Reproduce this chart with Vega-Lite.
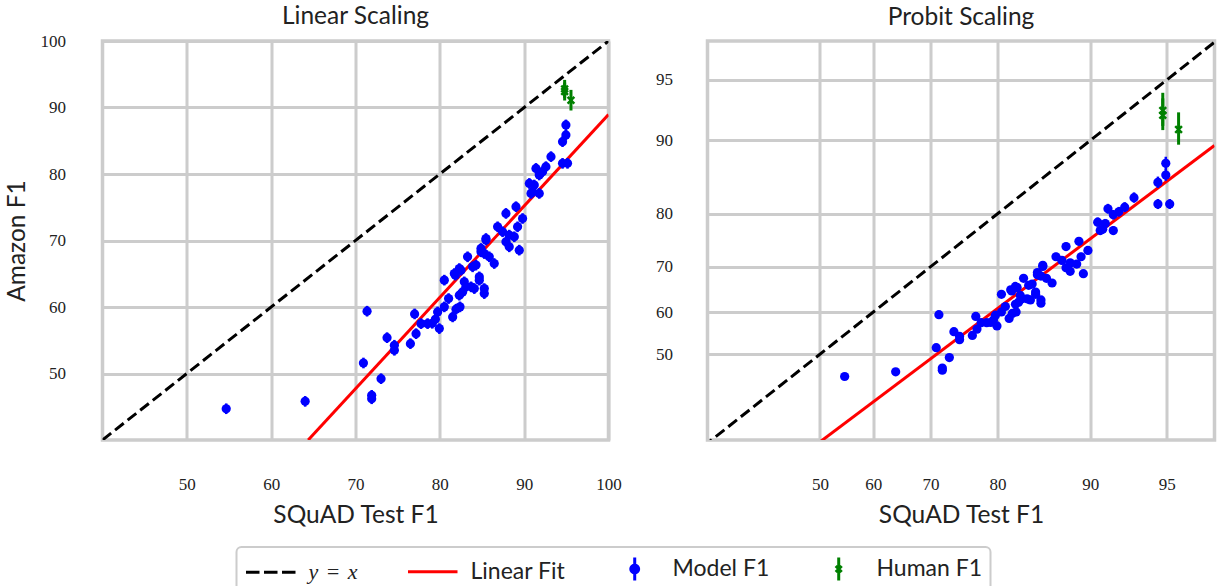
{
  "$schema": "https://vega.github.io/schema/vega-lite/v6.json",
  "background": "white",
  "padding": {"left": 1.5, "top": 1, "right": 5, "bottom": 0},
  "config": {
    "view": {"stroke": "#cccccc", "strokeWidth": 3.5},
    "font": "Lato",
    "axis": {"domain": false, "ticks": false, "tickSize": 0, "grid": true, "gridColor": "#cccccc", "gridWidth": 3, "gridOpacity": 1,
      "labelFont": "Liberation Serif", "labelFontSize": 17, "labelColor": "#222222", "labelFlush": false, "labelOverlap": false,
      "titleFont": "Lato", "titleFontSize": 24.5, "titleFontWeight": "normal", "titleColor": "#222222"},
    "title": {"font": "Lato", "fontSize": 24.5, "fontWeight": "normal", "color": "#222222"}
  },
  "datasets": {
    "model": [
      {"x": 54.67, "y": 44.70, "e": 0.8}, {"x": 64.03, "y": 45.81, "e": 0.8}, {"x": 71.37, "y": 59.37, "e": 0.8},
      {"x": 70.94, "y": 51.58, "e": 0.8}, {"x": 71.92, "y": 46.72, "e": 0.8}, {"x": 71.92, "y": 46.20, "e": 0.8},
      {"x": 73.03, "y": 49.22, "e": 0.8}, {"x": 73.74, "y": 55.39, "e": 0.8}, {"x": 74.61, "y": 54.25, "e": 0.8},
      {"x": 74.61, "y": 53.49, "e": 0.8}, {"x": 76.51, "y": 54.49, "e": 0.8}, {"x": 77.18, "y": 55.99, "e": 0.8},
      {"x": 77.01, "y": 58.96, "e": 0.8}, {"x": 77.77, "y": 57.50, "e": 0.8}, {"x": 78.55, "y": 57.50, "e": 0.8},
      {"x": 79.47, "y": 58.16, "e": 0.8}, {"x": 79.94, "y": 56.75, "e": 0.8}, {"x": 79.74, "y": 59.26, "e": 0.8},
      {"x": 80.53, "y": 60.02, "e": 0.8}, {"x": 81.04, "y": 61.27, "e": 0.8}, {"x": 81.52, "y": 58.51, "e": 0.8},
      {"x": 81.92, "y": 59.67, "e": 0.8}, {"x": 82.39, "y": 60.02, "e": 0.8}, {"x": 80.53, "y": 64.04, "e": 0.8},
      {"x": 81.84, "y": 64.79, "e": 0.8}, {"x": 82.51, "y": 65.54, "e": 0.8}, {"x": 82.90, "y": 63.78, "e": 0.8},
      {"x": 82.70, "y": 62.27, "e": 0.8}, {"x": 83.29, "y": 67.55, "e": 0.8}, {"x": 83.89, "y": 66.04, "e": 0.8},
      {"x": 84.09, "y": 62.77, "e": 0.8}, {"x": 84.68, "y": 64.04, "e": 0.8}, {"x": 85.27, "y": 62.77, "e": 0.8},
      {"x": 84.88, "y": 68.30, "e": 0.8}, {"x": 85.47, "y": 70.06, "e": 0.8}, {"x": 93.18, "y": 82.61, "e": 0.8},
      {"x": 92.58, "y": 81.10, "e": 0.8}, {"x": 91.40, "y": 80.84, "e": 0.8}, {"x": 91.79, "y": 79.85, "e": 0.8},
      {"x": 90.61, "y": 78.58, "e": 0.8}, {"x": 91.20, "y": 78.34, "e": 0.8}, {"x": 91.79, "y": 77.08, "e": 0.8},
      {"x": 91.00, "y": 77.33, "e": 0.8}, {"x": 89.03, "y": 75.08, "e": 0.8}, {"x": 87.84, "y": 74.07, "e": 0.8},
      {"x": 89.81, "y": 73.31, "e": 0.8}, {"x": 89.22, "y": 72.06, "e": 0.8}, {"x": 86.85, "y": 72.06, "e": 0.8},
      {"x": 87.44, "y": 71.31, "e": 0.8}, {"x": 88.23, "y": 70.81, "e": 0.8}, {"x": 88.83, "y": 70.56, "e": 0.8},
      {"x": 87.84, "y": 69.80, "e": 0.8}, {"x": 88.23, "y": 69.05, "e": 0.8}, {"x": 89.42, "y": 68.55, "e": 0.8},
      {"x": 85.47, "y": 70.30, "e": 0.8}, {"x": 84.88, "y": 68.80, "e": 0.8}, {"x": 85.27, "y": 68.04, "e": 0.8},
      {"x": 85.86, "y": 67.55, "e": 0.8}, {"x": 86.45, "y": 66.54, "e": 0.8}, {"x": 84.29, "y": 66.30, "e": 0.8},
      {"x": 82.31, "y": 65.78, "e": 0.8}, {"x": 84.68, "y": 64.53, "e": 0.8}, {"x": 81.72, "y": 65.03, "e": 0.8},
      {"x": 94.95, "y": 87.38, "e": 0.8}, {"x": 94.95, "y": 85.87, "e": 0.8}, {"x": 94.55, "y": 84.86, "e": 0.8},
      {"x": 94.55, "y": 81.60, "e": 0.8}, {"x": 95.14, "y": 81.60, "e": 0.8}, {"x": 92.18, "y": 80.35, "e": 0.8},
      {"x": 90.81, "y": 77.08, "e": 0.8}, {"x": 79.10, "y": 57.55, "e": 0.8}, {"x": 83.10, "y": 63.03, "e": 0.8},
      {"x": 83.70, "y": 63.03, "e": 0.8}, {"x": 82.31, "y": 61.78, "e": 0.8}, {"x": 85.27, "y": 62.02, "e": 0.8}
    ],
    "human": [
      {"x": 94.8, "y": 92.8, "e": 1.35},
      {"x": 94.8, "y": 92.4, "e": 1.35},
      {"x": 95.55, "y": 91.1, "e": 1.55}
    ],
    "diag_lin": [{"x": 40, "y": 40}, {"x": 100, "y": 100}],
    "fit_lin": [{"x": 64.39, "y": 40}, {"x": 100, "y": 88.93}],
    "diag_prob": [{"x": 29, "y": 29}, {"x": 98, "y": 98}],
    "fit_prob": [{"x": 29.7, "y": 15.1}, {"x": 96.93, "y": 89.46}]
  },
  "bounds": "flush",
  "spacing": 99,
  "resolve": {"scale": {"color": "shared"}},
  "hconcat": [
    {
      "width": 506,
      "height": 399,
      "title": {"text": "Linear Scaling", "frame": "group", "offset": 3},
      "encoding": {
        "x": {"field": "x", "type": "quantitative", "title": "SQuAD Test F1",
          "scale": {"domain": [40, 100], "nice": false, "zero": false},
          "axis": {"values": [50, 60, 70, 80, 90, 100], "labelPadding": 36, "titlePadding": 11}},
        "y": {"field": "y", "type": "quantitative", "title": "Amazon F1",
          "scale": {"domain": [40, 100], "nice": false, "zero": false},
          "axis": {"values": [50, 60, 70, 80, 90, 100], "labelPadding": 37, "titlePadding": 11}}
      },
      "layer": [
        {"data": {"name": "diag_lin"}, "mark": {"type": "line", "color": "#000000", "strokeWidth": 3, "strokeDash": [11, 5], "clip": true}},
        {"data": {"name": "fit_lin"}, "mark": {"type": "line", "color": "#ff0000", "strokeWidth": 3, "clip": true}},
        {"data": {"name": "model"},
          "transform": [{"calculate": "datum.y - datum.e", "as": "lo"}, {"calculate": "datum.y + datum.e", "as": "hi"}],
          "mark": {"type": "rule", "color": "#0000ff", "strokeWidth": 2.5},
          "encoding": {"y": {"field": "lo", "type": "quantitative", "title": "Amazon F1"}, "y2": {"field": "hi"}}},
        {"data": {"name": "model"},
          "mark": {"type": "point", "filled": true, "opacity": 1, "size": 85},
          "encoding": {"color": {"datum": "Model F1", "type": "nominal",
            "scale": {"domain": ["y = x", "Linear Fit", "Model F1", "Human F1"], "range": ["#000000", "#ff0000", "#0000ff", "#008000"]},
            "legend": {
              "orient": "none", "legendX": 134, "legendY": 506, "direction": "horizontal", "columns": 4, "title": null,
              "padding": 8, "strokeColor": "#cccccc", "cornerRadius": 5, "columnPadding": 43, "labelOffset": 37,
              "labelFont": "Lato", "labelFontSize": 23, "labelColor": "#222222", "labelLimit": 300,
              "symbolSize": 576, "symbolStrokeWidth": 3, "symbolOpacity": 1,
              "labelExpr": "datum.value === 'y = x' ? 'y\u2004=\u2004x' : datum.label",
              "encode": {
                "legend": {"update": {"strokeWidth": {"value": 2}}},
                "symbols": {"update": {
                  "shape": {"signal": "datum.value === 'Model F1' ? 'M1.06,-0.96V0.96M1.39,0A0.33,0.33,0,1,1,0.73,0A0.33,0.33,0,1,1,1.39,0Z' : datum.value === 'Human F1' ? 'M1.06,-0.96V0.96M0.81,-0.25L1.31,0.25M0.81,0.25L1.31,-0.25' : datum.value === 'Linear Fit' ? 'M-1,0H3.125' : 'M-1,0H0.125M0.5,0H1.625M2,0H3.125'"},
                  "fill": {"scale": "color", "field": "value"},
                  "stroke": {"scale": "color", "field": "value"},
                  "opacity": {"value": 1}
                }},
                "labels": {"update": {
                  "font": {"signal": "datum.value === 'y = x' ? 'Liberation Serif' : 'Lato'"},
                  "fontSize": {"signal": "datum.value === 'y = x' ? 22 : 23"},
                  "fontStyle": {"signal": "datum.value === 'y = x' ? 'italic' : 'normal'"}
                }}
              }
            }}}},
        {"data": {"name": "human"},
          "transform": [{"calculate": "datum.y - datum.e", "as": "lo"}, {"calculate": "datum.y + datum.e", "as": "hi"}],
          "mark": {"type": "rule", "color": "#008000", "strokeWidth": 3},
          "encoding": {"y": {"field": "lo", "type": "quantitative", "title": "Amazon F1"}, "y2": {"field": "hi"}}},
        {"data": {"name": "human"},
          "mark": {"type": "point", "filled": false, "opacity": 1, "size": 45, "strokeWidth": 2.5, "shape": "M-1,-1L1,1M-1,1L1,-1"},
          "encoding": {"color": {"datum": "Human F1", "type": "nominal"}}}
      ]
    },
    {
      "width": 507,
      "height": 399,
      "title": {"text": "Probit Scaling", "frame": "group", "offset": 11},
      "encoding": {
        "x": {"field": "px", "type": "quantitative", "title": "SQuAD Test F1",
          "scale": {"domain": [-0.533, 1.871], "nice": false, "zero": false},
          "axis": {"values": [0, 0.253347, 0.524401, 0.841621, 1.281552, 1.644854], "labelExpr": "format(cumulativeNormal(datum.value) * 100, '.0f')", "labelPadding": 36, "titlePadding": 11}},
        "y": {"field": "py", "type": "quantitative", "title": null,
          "scale": {"domain": [-0.514, 1.878], "nice": false, "zero": false},
          "axis": {"values": [0, 0.253347, 0.524401, 0.841621, 1.281552, 1.644854], "labelExpr": "format(cumulativeNormal(datum.value) * 100, '.0f')", "labelPadding": 35}}
      },
      "layer": [
        {"data": {"name": "diag_prob"},
          "transform": [{"calculate": "quantileNormal(datum.x / 100)", "as": "px"}, {"calculate": "quantileNormal(datum.y / 100)", "as": "py"}],
          "mark": {"type": "line", "color": "#000000", "strokeWidth": 3, "strokeDash": [11, 5], "clip": true}},
        {"data": {"name": "fit_prob"},
          "transform": [{"calculate": "quantileNormal(datum.x / 100)", "as": "px"}, {"calculate": "quantileNormal(datum.y / 100)", "as": "py"}],
          "mark": {"type": "line", "color": "#ff0000", "strokeWidth": 3, "clip": true}},
        {"data": {"name": "model"},
          "transform": [{"calculate": "quantileNormal(datum.x / 100)", "as": "px"}, {"calculate": "quantileNormal((datum.y - datum.e) / 100)", "as": "plo"}, {"calculate": "quantileNormal((datum.y + datum.e) / 100)", "as": "phi"}],
          "mark": {"type": "rule", "color": "#0000ff", "strokeWidth": 2.5},
          "encoding": {"y": {"field": "plo", "type": "quantitative", "title": null}, "y2": {"field": "phi"}}},
        {"data": {"name": "model"},
          "transform": [{"calculate": "quantileNormal(datum.x / 100)", "as": "px"}, {"calculate": "quantileNormal(datum.y / 100)", "as": "py"}],
          "mark": {"type": "point", "filled": true, "opacity": 1, "size": 85},
          "encoding": {"color": {"datum": "Model F1", "type": "nominal"}}},
        {"data": {"name": "human"},
          "transform": [{"calculate": "quantileNormal(datum.x / 100)", "as": "px"}, {"calculate": "quantileNormal((datum.y - datum.e) / 100)", "as": "plo"}, {"calculate": "quantileNormal((datum.y + datum.e) / 100)", "as": "phi"}],
          "mark": {"type": "rule", "color": "#008000", "strokeWidth": 3},
          "encoding": {"y": {"field": "plo", "type": "quantitative", "title": null}, "y2": {"field": "phi"}}},
        {"data": {"name": "human"},
          "transform": [{"calculate": "quantileNormal(datum.x / 100)", "as": "px"}, {"calculate": "quantileNormal(datum.y / 100)", "as": "py"}],
          "mark": {"type": "point", "filled": false, "opacity": 1, "size": 45, "strokeWidth": 2.5, "shape": "M-1,-1L1,1M-1,1L1,-1"},
          "encoding": {"color": {"datum": "Human F1", "type": "nominal"}}}
      ]
    }
  ]
}
